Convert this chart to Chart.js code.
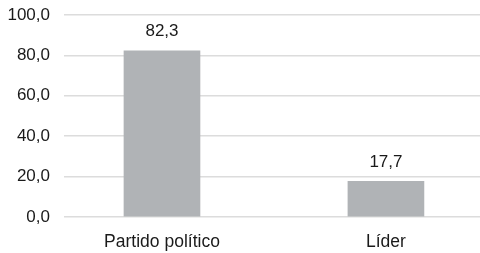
<!DOCTYPE html>
<html>
<head>
<meta charset="utf-8">
<script src="https://cdn.jsdelivr.net/npm/chart.js@4/dist/chart.umd.min.js"></script>
<style>
    html, body { margin: 0; padding: 0; background: #fff; overflow: hidden; }
    #wrap { width: 480px; height: 253px; position: relative; }
</style>
</head>
<body>
<div id="wrap"><canvas id="chart"></canvas></div>
<script>
const categories = ['Partido político', 'Líder'];
const values = [82.3, 17.7];
const yTicks = [0, 20, 40, 60, 80, 100];

const fmt = v => v.toFixed(1).replace('.', ',');
const FONT = '"Liberation Sans", Arial, sans-serif';

// value labels above the bars
const barLabels = {
    id: 'barLabels',
    afterDatasetsDraw(chart) {
        const ctx = chart.ctx;
        const meta = chart.getDatasetMeta(0);
        ctx.save();
        ctx.fillStyle = '#1a1a1a';
        ctx.font = '17px ' + FONT;
        ctx.textAlign = 'center';
        ctx.textBaseline = 'middle';
        meta.data.forEach((bar, i) => {
            ctx.fillText(fmt(values[i]), bar.x, bar.y - 19);
        });
        ctx.restore();
    }
};

const ctx = document.getElementById('chart').getContext('2d');
new Chart(ctx, {
    type: 'bar',
    data: {
        datasets: [{
            data: values.map((v, i) => ({ x: i, y: v })),
            backgroundColor: '#b0b3b6',
            barThickness: 76
        }]
    },
    options: {
        responsive: true,
        maintainAspectRatio: false,
        animation: false,
        layout: { padding: 0 },
        plugins: {
            legend: { display: false },
            tooltip: { enabled: false }
        },
        scales: {
            x: {
                type: 'linear',
                offset: false,
                min: -0.4375,
                max: 1.42,
                afterBuildTicks: scale => {
                    scale.ticks = categories.map((_, i) => ({ value: i }));
                },
                afterFit: scale => { scale.height = 36; },
                grid: { display: false },
                border: { display: false },
                ticks: {
                    color: '#1a1a1a',
                    padding: 7,
                    maxRotation: 0,
                    autoSkip: false,
                    font: { size: 17.5, family: FONT },
                    callback: value => categories[value]
                }
            },
            y: {
                min: 0,
                max: 100,
                afterBuildTicks: scale => {
                    scale.ticks = yTicks.map(v => ({ value: v }));
                },
                afterFit: scale => {
                    scale.width = 64;
                    scale.paddingTop = 15;
                },
                grid: {
                    color: '#dcdcdc',
                    lineWidth: 1.5,
                    drawTicks: false
                },
                border: { display: false },
                ticks: {
                    color: '#1a1a1a',
                    padding: 14,
                    font: { size: 17, family: FONT },
                    callback: value => fmt(value)
                }
            }
        }
    },
    plugins: [barLabels]
});
</script>
</body>
</html>
